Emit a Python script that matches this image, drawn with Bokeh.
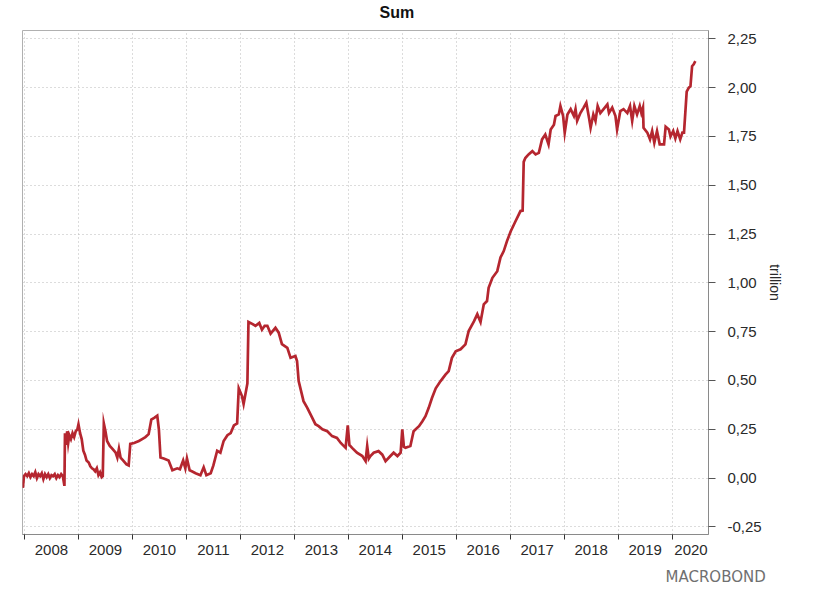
from bokeh.plotting import figure
from bokeh.models import Range1d, FixedTicker, CustomJSTickFormatter, Title, ColumnDataSource
from bokeh.embed import file_html
from bokeh.resources import INLINE

# ---- data (decimal years, trillion) ----
dates = [
    2007.97, 2007.99, 2008.02, 2008.05, 2008.08, 2008.11, 2008.14, 2008.17, 2008.20, 2008.23,
    2008.26, 2008.29, 2008.32, 2008.35, 2008.38, 2008.41, 2008.44, 2008.47, 2008.50, 2008.53,
    2008.56, 2008.59, 2008.62, 2008.65, 2008.68, 2008.71, 2008.74, 2008.75, 2008.77, 2008.79,
    2008.81, 2008.83, 2008.86, 2008.89, 2008.92, 2008.95, 2008.98, 2009.00, 2009.03, 2009.06,
    2009.09, 2009.12, 2009.15, 2009.19, 2009.22, 2009.25, 2009.28, 2009.31, 2009.34, 2009.37,
    2009.40, 2009.43, 2009.45, 2009.47, 2009.50, 2009.53, 2009.58, 2009.63, 2009.69, 2009.72,
    2009.75, 2009.78, 2009.83, 2009.89, 2009.93, 2009.96, 2010.03, 2010.12, 2010.18, 2010.24,
    2010.30, 2010.35, 2010.41, 2010.46, 2010.49, 2010.52, 2010.58, 2010.67, 2010.74, 2010.83,
    2010.88, 2010.94, 2010.98, 2011.01, 2011.06, 2011.10, 2011.17, 2011.26, 2011.32, 2011.37,
    2011.45, 2011.50, 2011.57, 2011.63, 2011.69, 2011.76, 2011.82, 2011.88, 2011.94, 2011.97,
    2012.03, 2012.06, 2012.13, 2012.15, 2012.22, 2012.28, 2012.35, 2012.40, 2012.45, 2012.50,
    2012.56, 2012.65, 2012.71, 2012.77, 2012.87, 2012.93, 2013.02, 2013.05, 2013.08, 2013.17,
    2013.24, 2013.33, 2013.39, 2013.45, 2013.52, 2013.61, 2013.70, 2013.79, 2013.86, 2013.95,
    2013.99, 2014.02, 2014.07, 2014.16, 2014.26, 2014.32, 2014.35, 2014.38, 2014.41, 2014.47,
    2014.56, 2014.63, 2014.69, 2014.78, 2014.84, 2014.91, 2014.97, 2015.00, 2015.03, 2015.06,
    2015.15, 2015.21, 2015.31, 2015.37, 2015.43, 2015.49, 2015.55, 2015.62, 2015.71, 2015.80,
    2015.86, 2015.92, 2015.99, 2016.08, 2016.17, 2016.23, 2016.33, 2016.39, 2016.45, 2016.51,
    2016.57, 2016.60, 2016.67, 2016.76, 2016.82, 2016.88, 2016.94, 2017.01, 2017.10, 2017.19,
    2017.23, 2017.25, 2017.28, 2017.34, 2017.41, 2017.47, 2017.53, 2017.59, 2017.65, 2017.71,
    2017.75, 2017.81, 2017.84, 2017.90, 2017.93, 2017.98, 2018.01, 2018.06, 2018.12, 2018.18,
    2018.21, 2018.24, 2018.30, 2018.36, 2018.41, 2018.46, 2018.49, 2018.54, 2018.58, 2018.62,
    2018.67, 2018.73, 2018.80, 2018.83, 2018.89, 2018.95, 2018.98, 2019.04, 2019.10, 2019.17,
    2019.22, 2019.26, 2019.30, 2019.35, 2019.40, 2019.43, 2019.46, 2019.47, 2019.54, 2019.59,
    2019.63, 2019.67, 2019.72, 2019.77, 2019.85, 2019.88, 2019.94, 2019.97, 2020.02, 2020.06,
    2020.10, 2020.15, 2020.19, 2020.22, 2020.27, 2020.31, 2020.34, 2020.37, 2020.40, 2020.43,
]
values = [
    -0.05, 0.01, 0.02, 0.01, 0.025, 0.005, 0.02, 0.01, 0.03, 0.00,
    0.02, 0.01, 0.025, -0.005, 0.02, 0.005, 0.02, 0.00, 0.015, 0.01,
    0.02, 0.00, 0.015, 0.005, 0.02, 0.01, -0.04, 0.23, 0.17, 0.24,
    0.18, 0.22, 0.20, 0.23, 0.21, 0.24, 0.25, 0.275, 0.23, 0.20,
    0.14, 0.12, 0.09, 0.08, 0.06, 0.05, 0.045, 0.035, 0.05, 0.015,
    0.03, 0.005, 0.01, 0.28, 0.24, 0.19, 0.165, 0.15, 0.13, 0.105,
    0.15, 0.105, 0.09, 0.07, 0.065, 0.175, 0.18, 0.19, 0.20, 0.21,
    0.225, 0.30, 0.31, 0.32, 0.25, 0.105, 0.10, 0.09, 0.04, 0.05,
    0.045, 0.09, 0.05, 0.10, 0.04, 0.035, 0.025, 0.015, 0.055, 0.015,
    0.025, 0.065, 0.14, 0.13, 0.19, 0.22, 0.23, 0.27, 0.28, 0.46,
    0.42, 0.38, 0.485, 0.80, 0.79, 0.78, 0.795, 0.76, 0.78, 0.78,
    0.74, 0.77, 0.745, 0.686, 0.667, 0.616, 0.625, 0.60, 0.497, 0.394,
    0.36, 0.31, 0.276, 0.266, 0.25, 0.24, 0.215, 0.206, 0.18, 0.155,
    0.27, 0.17, 0.155, 0.13, 0.113, 0.087, 0.164, 0.10, 0.113, 0.13,
    0.138, 0.12, 0.087, 0.113, 0.13, 0.113, 0.13, 0.25, 0.16, 0.155,
    0.164, 0.24, 0.266, 0.29, 0.317, 0.36, 0.41, 0.46, 0.497, 0.53,
    0.548, 0.616, 0.65, 0.66, 0.685, 0.753, 0.804, 0.84, 0.80, 0.89,
    0.907, 0.975, 1.026, 1.06, 1.13, 1.163, 1.214, 1.265, 1.317, 1.368,
    1.37, 1.62, 1.64, 1.658, 1.675, 1.658, 1.666, 1.735, 1.76, 1.71,
    1.786, 1.81, 1.855, 1.863, 1.906, 1.855, 1.77, 1.863, 1.89, 1.855,
    1.89, 1.83, 1.87, 1.898, 1.923, 1.846, 1.795, 1.863, 1.83, 1.906,
    1.87, 1.89, 1.914, 1.87, 1.898, 1.855, 1.786, 1.88, 1.89, 1.87,
    1.906, 1.83, 1.906, 1.863, 1.906, 1.87, 1.898, 1.795, 1.77, 1.735,
    1.778, 1.718, 1.778, 1.71, 1.71, 1.80, 1.786, 1.75, 1.778, 1.74,
    1.778, 1.735, 1.77, 1.77, 1.98, 2.0, 2.008, 2.11, 2.12, 2.136,
]

year_bounds = [2008, 2009, 2010, 2011, 2012, 2013, 2014, 2015, 2016, 2017, 2018, 2019, 2020]
year_label_pos = [2008.5, 2009.5, 2010.5, 2011.5, 2012.5, 2013.5, 2014.5, 2015.5,
                  2016.5, 2017.5, 2018.5, 2019.5, 2020.35]
y_ticks = [-0.25, 0.0, 0.25, 0.5, 0.75, 1.0, 1.25, 1.5, 1.75, 2.0, 2.25]

title_text = "Sum"
unit_text = "trillion"
logo_text = "MACROBOND"

FONT = "Liberation Sans"
TXT = "#2a2a2a"

p = figure(width=814, height=598, output_backend="svg", toolbar_location=None,
           x_range=Range1d(2007.963, 2020.674), y_range=Range1d(-0.289, 2.293),
           y_axis_location="right",
           min_border_left=22, min_border_right=106,
           min_border_top=30, min_border_bottom=64)
p.background_fill_color = "white"
p.border_fill_color = "white"
p.outline_line_color = "#b0b0b0"
p.outline_line_width = 1

# title
p.title = Title(text=title_text, align="left", offset=357, standoff=1,
                text_font=FONT, text_font_size="16px", text_font_style="bold",
                text_color="#111111")
# small blank spacer panel between title and frame
p.add_layout(Title(text=" ", standoff=1, text_font_size="5px"), "above")

# grid
p.xgrid.ticker = FixedTicker(ticks=year_bounds)
p.ygrid.ticker = FixedTicker(ticks=y_ticks)
for g in (p.xgrid, p.ygrid):
    g.grid_line_color = "#b8b8b8"
    g.grid_line_dash = "1 3"
    g.grid_line_width = 1

# x axis
xa = p.xaxis[0]
xa.ticker = FixedTicker(ticks=year_label_pos, minor_ticks=year_bounds)
xa.formatter = CustomJSTickFormatter(code="return String(Math.floor(tick));")
xa.major_tick_line_color = None
xa.major_tick_out = 5
xa.major_tick_in = 0
xa.minor_tick_line_color = "#333333"
xa.minor_tick_out = 5
xa.minor_tick_in = 0
xa.axis_line_color = "#8a8a8a"
xa.major_label_standoff = 5
xa.major_label_text_font = FONT
xa.major_label_text_font_size = "15px"
xa.major_label_text_color = TXT

# y axis (right)
ya = p.yaxis[0]
ya.ticker = FixedTicker(ticks=y_ticks)
ya.formatter = CustomJSTickFormatter(code="return tick.toFixed(2).replace('.', ',');")
ya.major_tick_out = 7
ya.major_tick_in = 0
ya.major_tick_line_color = "#555555"
ya.minor_tick_line_color = None
ya.axis_line_color = "#8a8a8a"
ya.major_label_standoff = 12
ya.major_label_text_font = FONT
ya.major_label_text_font_size = "15px"
ya.major_label_text_color = TXT
ya.axis_label = unit_text
ya.axis_label_text_font = FONT
ya.axis_label_text_font_size = "14px"
ya.axis_label_text_font_style = "normal"
ya.axis_label_text_color = TXT
ya.axis_label_standoff = 2

src = ColumnDataSource(data=dict(x=dates, y=values))
p.line("x", "y", source=src, line_color="#b5262f", line_width=2.7, line_join="miter")

# logo below the axis
p.add_layout(Title(text=logo_text, align="left", offset=643, standoff=17,
                   text_font="DejaVu Sans", text_font_size="15px",
                   text_font_style="normal", text_color="#707070"), "below")

open("out.html", "w").write(file_html(p, INLINE))
